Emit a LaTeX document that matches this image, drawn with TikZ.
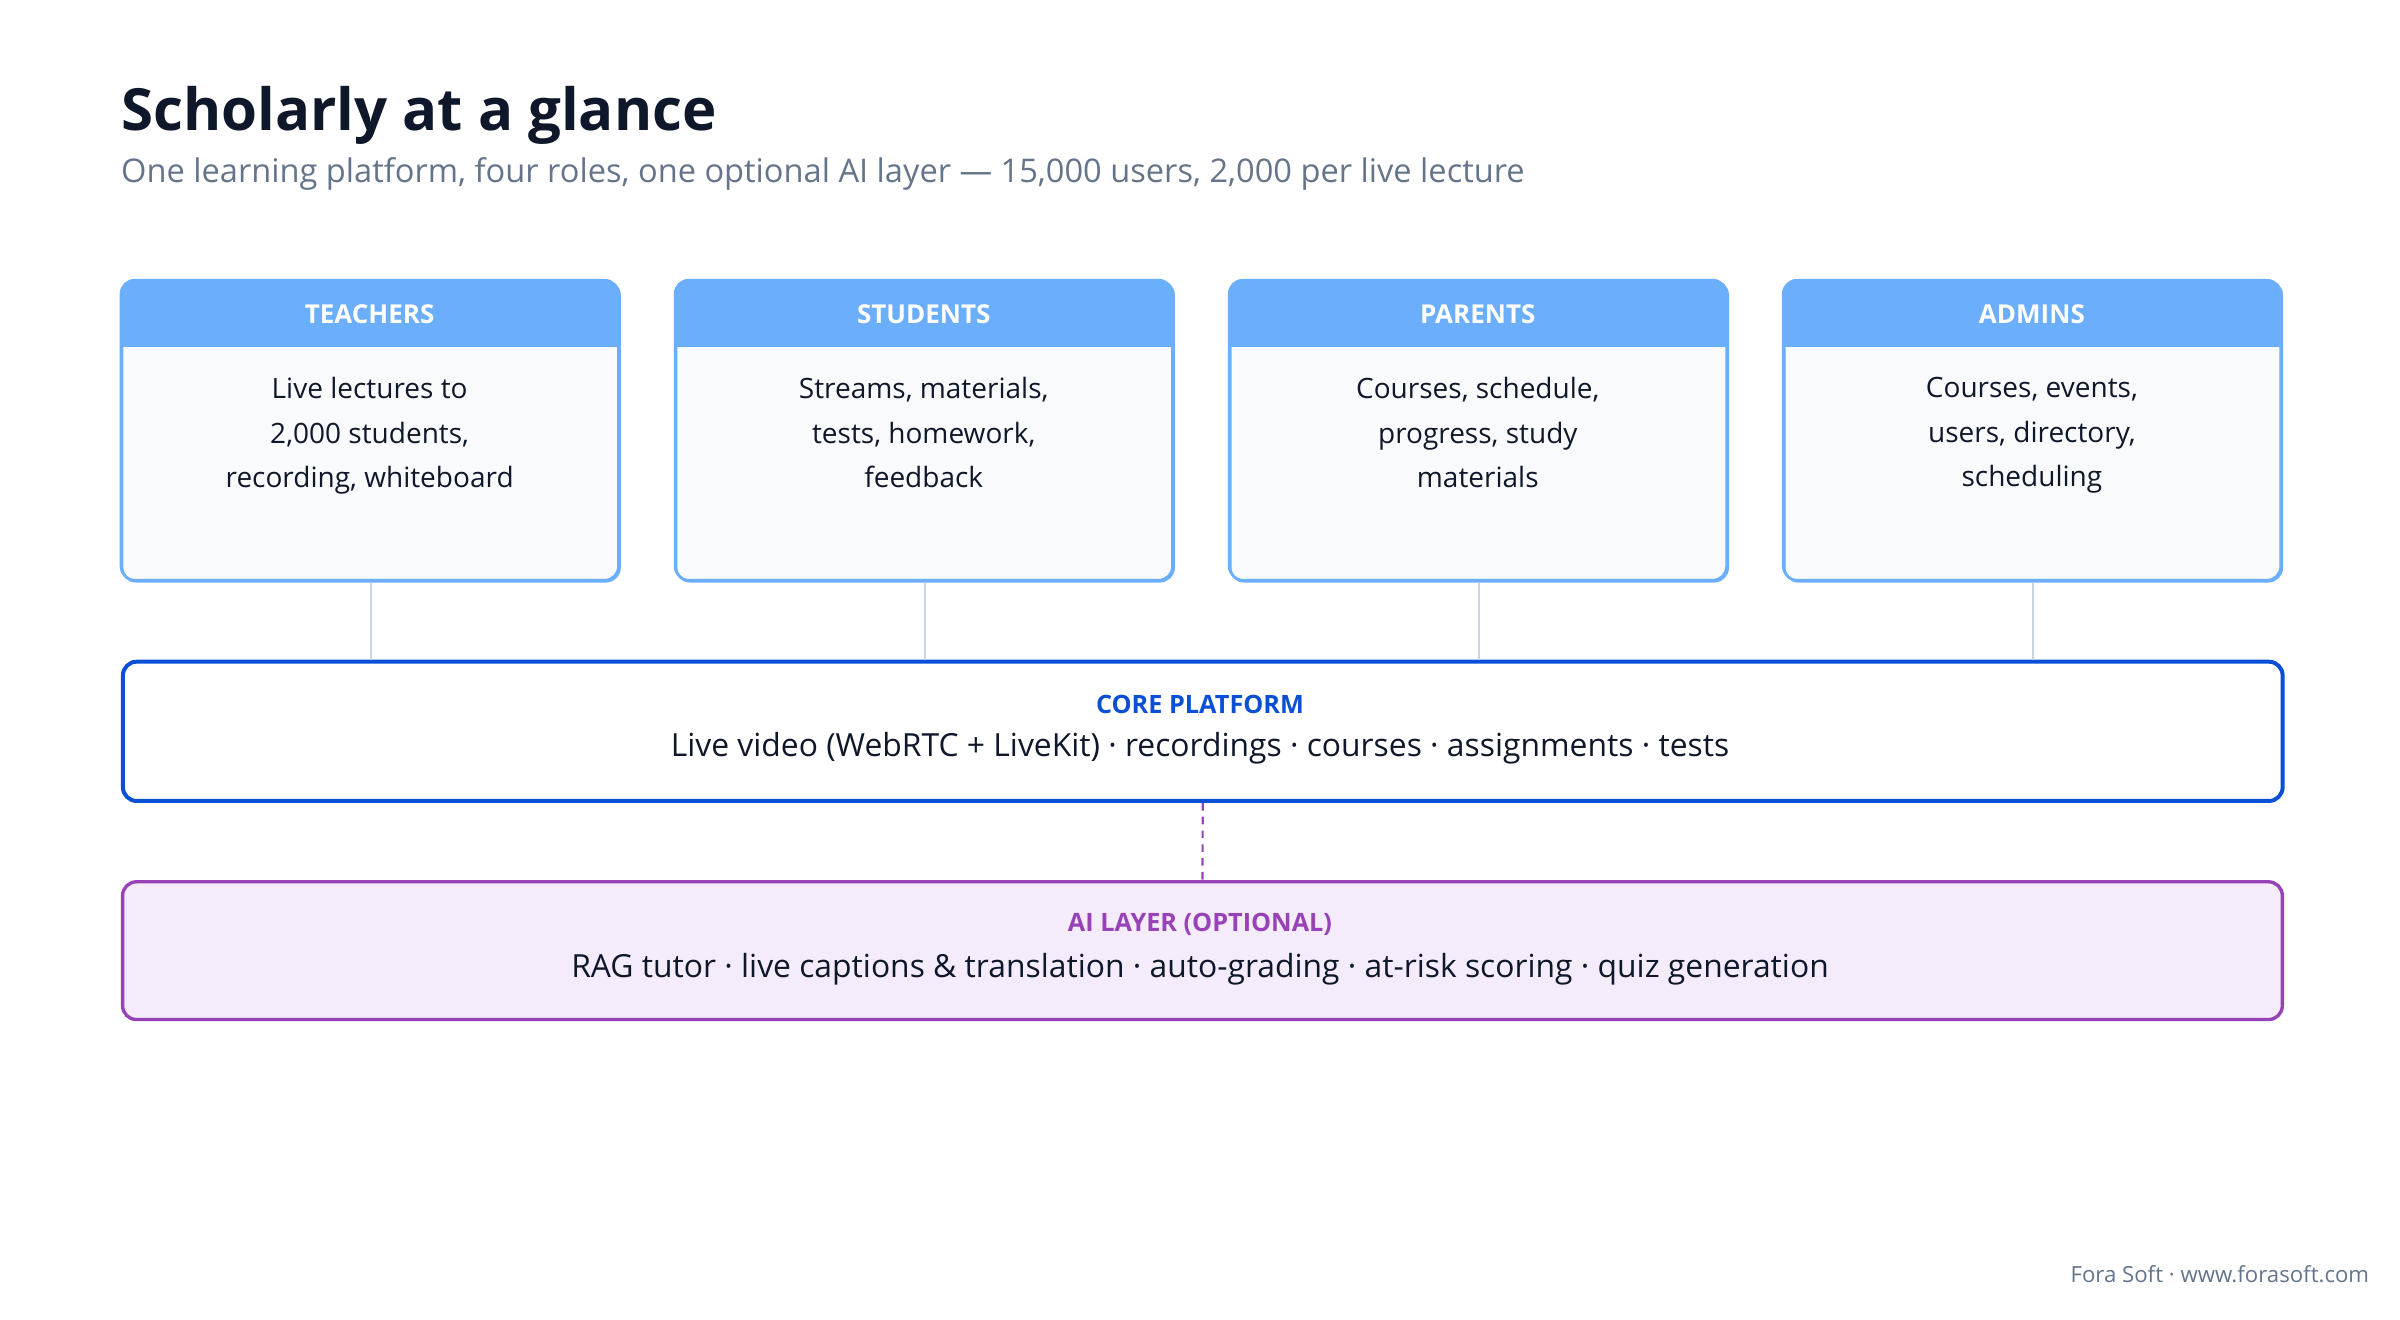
\documentclass[tikz,border=0pt]{standalone}
\usepackage{fontspec}
\setmainfont{Open Sans}
\definecolor{ink}{HTML}{0F172A}
\definecolor{sub}{HTML}{64748B}
\definecolor{hdr}{HTML}{6AAEFC}
\definecolor{bodyf}{HTML}{F8FAFC}
\definecolor{conn}{HTML}{CBD5E1}
\definecolor{core}{HTML}{0B4FD6}
\definecolor{aiB}{HTML}{9842B8}
\definecolor{aiF}{HTML}{F4ECFA}
\begin{document}
\begin{tikzpicture}[x=1pt,y=-1pt,
 role/.style={draw=hdr,line width=1.6pt,fill=bodyf,rounded corners=9pt,minimum width=325pt,minimum height=196pt,anchor=north west},
 htxt/.style={text=white,font=\fontsize{17}{20}\selectfont\bfseries},
 btxt/.style={text=ink,font=\fontsize{18.3}{29}\selectfont,align=center,anchor=north},
 cn/.style={draw=conn,line width=1.3pt}]
\useasboundingbox (0,0) rectangle (1568,862);
\node[anchor=base west,text=ink,font=\fontsize{38}{44}\selectfont\bfseries,inner sep=0] (t) at (79,85) {Scholarly at a glance};
\node[anchor=base west,text=sub,font=\fontsize{21.3}{24}\selectfont,inner sep=0] (s) at (79,119) {One learning platform, four roles, one optional AI layer — 15,000 users, 2,000 per live lecture};
\node[draw=core,line width=2.6pt,rounded corners=9pt,minimum width=1411pt,minimum height=91pt,anchor=north west] (core) at (79,431) {};
\node[text=core,font=\fontsize{16.5}{20}\selectfont\bfseries] (cl) at (784,460) {CORE PLATFORM};
\node[text=ink,font=\fontsize{20.8}{24}\selectfont] (ct) at (784,489) {Live video (WebRTC + LiveKit) · recordings · courses · assignments · tests};
\node[draw=aiB,fill=aiF,line width=2.2pt,rounded corners=9pt,minimum width=1411pt,minimum height=90pt,anchor=north west] (ai) at (79,575) {};
\node[text=aiB,font=\fontsize{16.5}{20}\selectfont\bfseries] (al) at (784,604) {AI LAYER (OPTIONAL)};
\node[text=ink,font=\fontsize{20.8}{24}\selectfont] (at) at (784,633) {RAG tutor · live captions \& translation · auto-grading · at-risk scoring · quiz generation};
\draw[aiB,line width=1.4pt,dash pattern=on 5pt off 4pt] (core.south) -- (ai.north);
\foreach \n/\x/\h/\t in {a/79/TEACHERS/{Live lectures to\\2,000 students,\\recording, whiteboard},
 b/441/STUDENTS/{Streams, materials,\\tests, homework,\\feedback},
 c/803/PARENTS/{Courses, schedule,\\progress, study\\materials},
 d/1165/ADMINS/{Courses, events,\\users, directory,\\scheduling}}{
 \node[role] (\n) at (\x,183) {};
 \begin{scope}
 \clip[rounded corners=9pt] (\x,183) rectangle ++(325,196);
 \fill[hdr] (\x,183) rectangle ++(325,44);
 \end{scope}
 \draw[hdr,line width=1.6pt,rounded corners=9pt] (\x,183) rectangle ++(325,196);
 \node[htxt] (\n h) at (\x+162.5,205) {\h};
 \node[btxt] (\n t) at (\x+162.5,243) {\t};
 \draw[cn] (\n.south) -- (\n.south |- core.north);
}
\node[anchor=base east,text=sub,font=\fontsize{14.5}{16}\selectfont,inner sep=0] (f) at (1548,838) {Fora Soft · www.forasoft.com};
\end{tikzpicture}
\end{document}
